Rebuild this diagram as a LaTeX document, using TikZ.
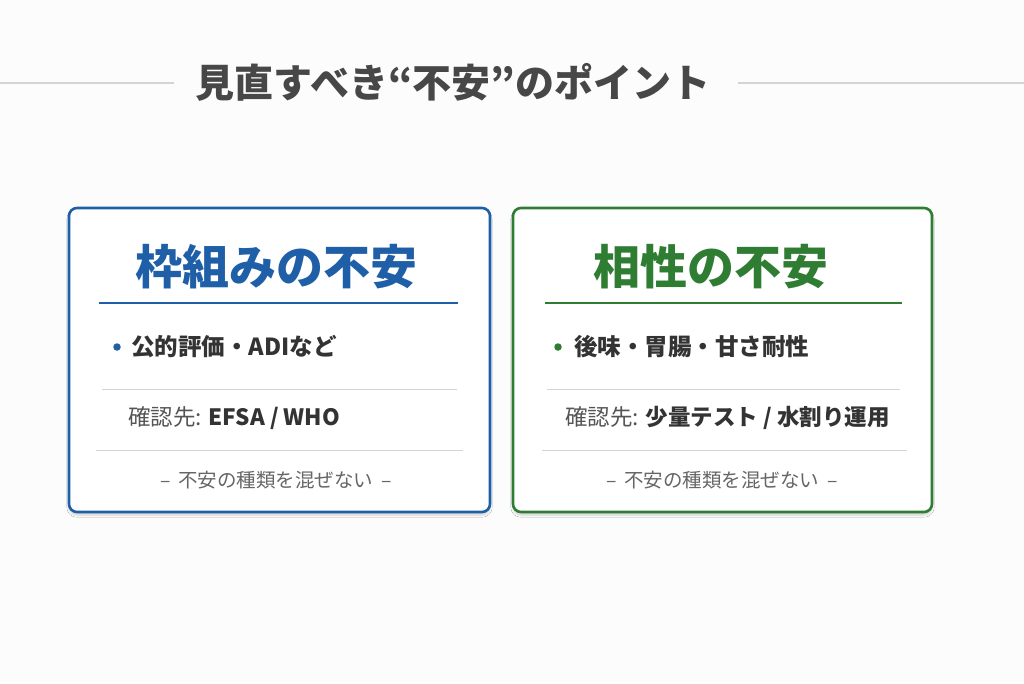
\documentclass[tikz,border=0pt]{standalone}
\usepackage{fontspec}
\setmainfont{Noto Sans CJK JP}
\newfontfamily\jp{Noto Sans CJK JP}
\usetikzlibrary{shadows.blur}
\definecolor{bluec}{HTML}{1F5FA8}
\definecolor{greenc}{HTML}{2E7D32}
\definecolor{darkt}{HTML}{333333}
\definecolor{midt}{HTML}{555555}
\definecolor{foott}{HTML}{666666}
\definecolor{rulec}{HTML}{D4D4D4}
\definecolor{bgc}{HTML}{FCFCFC}
\tikzset{
  card/.style={draw=#1, line width=2.6pt, rounded corners=8pt, fill=white,
    blur shadow={shadow xshift=0pt, shadow yshift=-3pt, shadow blur steps=6, shadow opacity=18}},
  cardtitle/.style={text=#1, font=\jp\fontsize{47}{52}\selectfont\bfseries, inner sep=0pt},
  bullettxt/.style={text=darkt, font=\jp\fontsize{23.5}{26}\selectfont\bfseries, inner sep=0pt, anchor=west},
  checktxt/.style={text=darkt, font=\jp\fontsize{22.5}{25}\selectfont, inner sep=0pt, anchor=west},
  foottxt/.style={text=foott, font=\jp\fontsize{19.5}{22}\selectfont, inner sep=0pt},
  thinrule/.style={draw=rulec, line width=0.9pt},
  titlerule/.style={draw=#1, line width=2pt},
  headrule/.style={draw=rulec, line width=1.1pt},
  dot/.style={circle, fill=#1, inner sep=0pt, minimum size=7.5pt}
}
\begin{document}
\begin{tikzpicture}[x=1pt,y=-1pt]
\fill[bgc] (0,0) rectangle (1024,683);
\useasboundingbox (0,0) rectangle (1024,683);

% heading
\node[text=darkt!90, font=\jp\fontsize{39}{43}\selectfont\bfseries, inner sep=0pt] (head) at (453,82) {見直すべき“不安”のポイント};
\coordinate (hl0) at (0,83);
\coordinate (hr1) at (1024,83);
\draw[headrule] (hl0) -- ([xshift=-22pt]head.west |- hl0);
\draw[headrule] ([xshift=28pt]head.east |- hr1) -- (hr1);

% left card
\node[card=bluec, minimum width=421pt, minimum height=304pt, inner sep=0pt] (cardL) at (279.5,360) {};
\node[cardtitle=bluec] (tL) at (276,267) {枠組みの不安};
\coordinate (uL0) at (99,303); \coordinate (uL1) at (458,303);
\draw[titlerule=bluec] (uL0) -- (uL1);
\node[dot=bluec] (bL) at (117,347) {};
\node[bullettxt] (pL) at (131,347) {公的評価・ADIなど};
\coordinate (sL0) at (102,389); \coordinate (sL1) at (457,389);
\draw[thinrule] (sL0) -- (sL1);
\node[checktxt] (cL) at (128,418) {{\color{midt}確認先:} \textbf{EFSA / WHO}};
\coordinate (s2L0) at (96,450); \coordinate (s2L1) at (463,450);
\draw[thinrule] (s2L0) -- (s2L1);
\node[foottxt] (fL) at (276,480) {–\hspace{0.4em}不安の種類を混ぜない\hspace{0.4em}–};

% right card
\node[card=greenc, minimum width=419pt, minimum height=304pt, inner sep=0pt] (cardR) at (722.5,360) {};
\node[cardtitle=greenc] (tR) at (711,267) {相性の不安};
\coordinate (uR0) at (545,303); \coordinate (uR1) at (902,303);
\draw[titlerule=greenc] (uR0) -- (uR1);
\node[dot=greenc] (bR) at (558,347) {};
\node[bullettxt] (pR) at (574,347) {後味・胃腸・甘さ耐性};
\coordinate (sR0) at (547,389); \coordinate (sR1) at (900,389);
\draw[thinrule] (sR0) -- (sR1);
\node[checktxt] (cR) at (565,418) {{\color{midt}確認先:} \textbf{少量テスト / 水割り運用}};
\coordinate (s2R0) at (542,450); \coordinate (s2R1) at (907,450);
\draw[thinrule] (s2R0) -- (s2R1);
\node[foottxt] (fR) at (722,480) {–\hspace{0.4em}不安の種類を混ぜない\hspace{0.4em}–};
\end{tikzpicture}
\end{document}
